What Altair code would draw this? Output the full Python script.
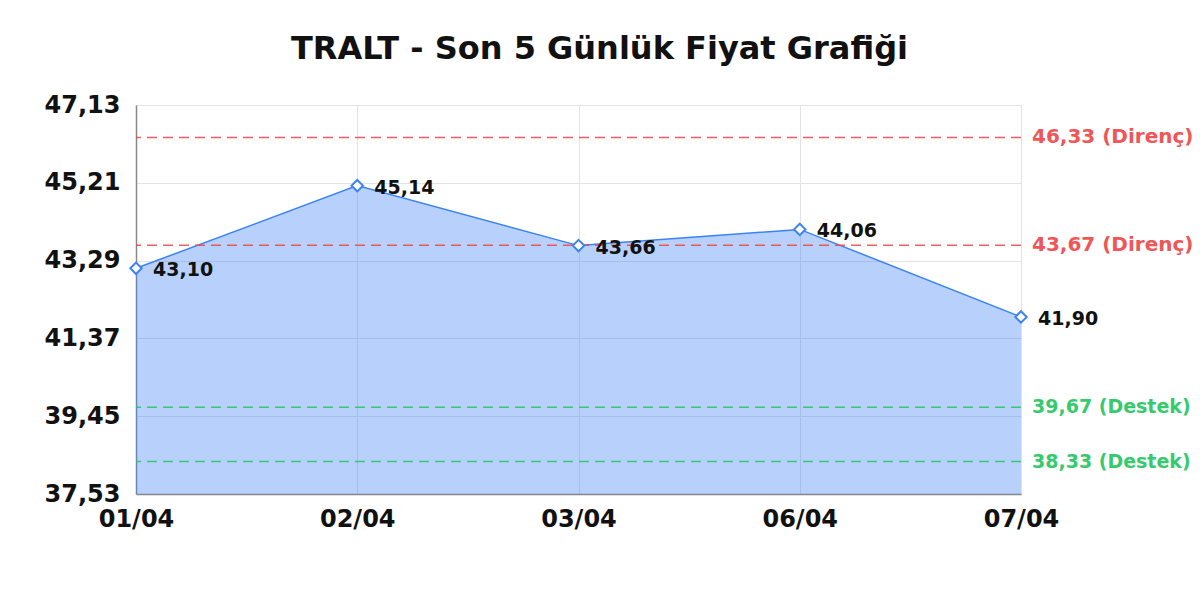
import altair as alt
import pandas as pd

dates = ["01/04", "02/04", "03/04", "06/04", "07/04"]
prices = [43.10, 45.14, 43.66, 44.06, 41.90]

level_values = [46.33, 43.67, 39.67, 38.33]
level_kinds = ["Direnç", "Direnç", "Destek", "Destek"]

y_ticks = [37.53, 39.45, 41.37, 43.29, 45.21, 47.13]

df = pd.DataFrame({"date": dates, "price": prices})
df["label"] = [f"{p:.2f}".replace(".", ",") for p in prices]

lv = pd.DataFrame({"value": level_values, "kind": level_kinds})
lv["date"] = dates[-1]
lv["label"] = [f"{v:.2f}".replace(".", ",") + f" ({k})" for v, k in zip(level_values, level_kinds)]

FONT = "DejaVu Sans"
BLUE = "#3b82f6"

x_enc = alt.X("date:O", sort=dates, title=None,
              scale=alt.Scale(type="point", padding=0),
              axis=alt.Axis(labelAngle=0, labelFont=FONT, labelFontSize=24, labelFontWeight="bold",
                            labelColor="#111", labelPadding=13, ticks=False, domainColor="#888",
                            domainWidth=1.5, grid=True, gridColor="#e3e3e3", labelFlush=False))
y_scale = alt.Scale(domain=[y_ticks[0], y_ticks[-1]], nice=False, zero=False)
y_enc = alt.Y("price:Q", title=None, scale=y_scale,
              axis=alt.Axis(values=y_ticks, labelExpr="replace(format(datum.value, '.2f'), '.', ',')",
                            labelFont=FONT, labelFontSize=24, labelFontWeight="bold", labelColor="#111",
                            labelPadding=16, ticks=False, domainColor="#888", domainWidth=1.5,
                            grid=True, gridColor="#e3e3e3"))

base = alt.Chart(df)

area = base.mark_area(color=BLUE, opacity=0.37, line=False, clip=True).encode(x=x_enc, y=y_enc)
line = base.mark_line(color=BLUE, strokeWidth=1.5).encode(x="date:O", y="price:Q")

color_scale = alt.Scale(domain=["Direnç", "Destek"], range=["#ef4444", "#22c55e"])

rules = alt.Chart(lv).mark_rule(strokeDash=[10, 6], strokeWidth=1.5, opacity=0.85).encode(
    y=alt.Y("value:Q", scale=y_scale),
    color=alt.Color("kind:N", scale=color_scale, legend=None),
)
level_text = alt.Chart(lv).mark_text(align="left", baseline="middle", dx=11, font=FONT,
                                     fontWeight="bold", opacity=0.9).encode(
    x=alt.X("date:O", sort=dates),
    y=alt.Y("value:Q", scale=y_scale),
    text="label:N",
    color=alt.Color("kind:N", scale=color_scale, legend=None),
    size=alt.Size("kind:N", scale=alt.Scale(domain=["Direnç", "Destek"], range=[20, 19]), legend=None),
)

points = base.mark_point(shape="diamond", filled=True, fill="white", stroke=BLUE, strokeWidth=2,
                         size=130, opacity=1).encode(x="date:O", y="price:Q")
point_text = base.mark_text(align="left", baseline="middle", dx=17, dy=2, font=FONT, fontSize=19,
                            fontWeight="bold", color="#111").encode(x="date:O", y="price:Q", text="label:N")

chart = alt.layer(area, line, rules, level_text, points, point_text).properties(
    width=885,
    height=389,
    autosize=alt.AutoSizeParams(type="none"),
    padding={"left": 128, "top": 97, "right": 171, "bottom": 70},
    title=alt.TitleParams("TRALT - Son 5 Günlük Fiyat Grafiği", font=FONT, fontSize=32,
                          fontWeight="bold", color="#111", anchor="middle", offset=27, dx=21),
).configure_view(stroke=None).configure(background="white")

chart.save("out.html", embed_options={"renderer": "svg", "actions": False})
